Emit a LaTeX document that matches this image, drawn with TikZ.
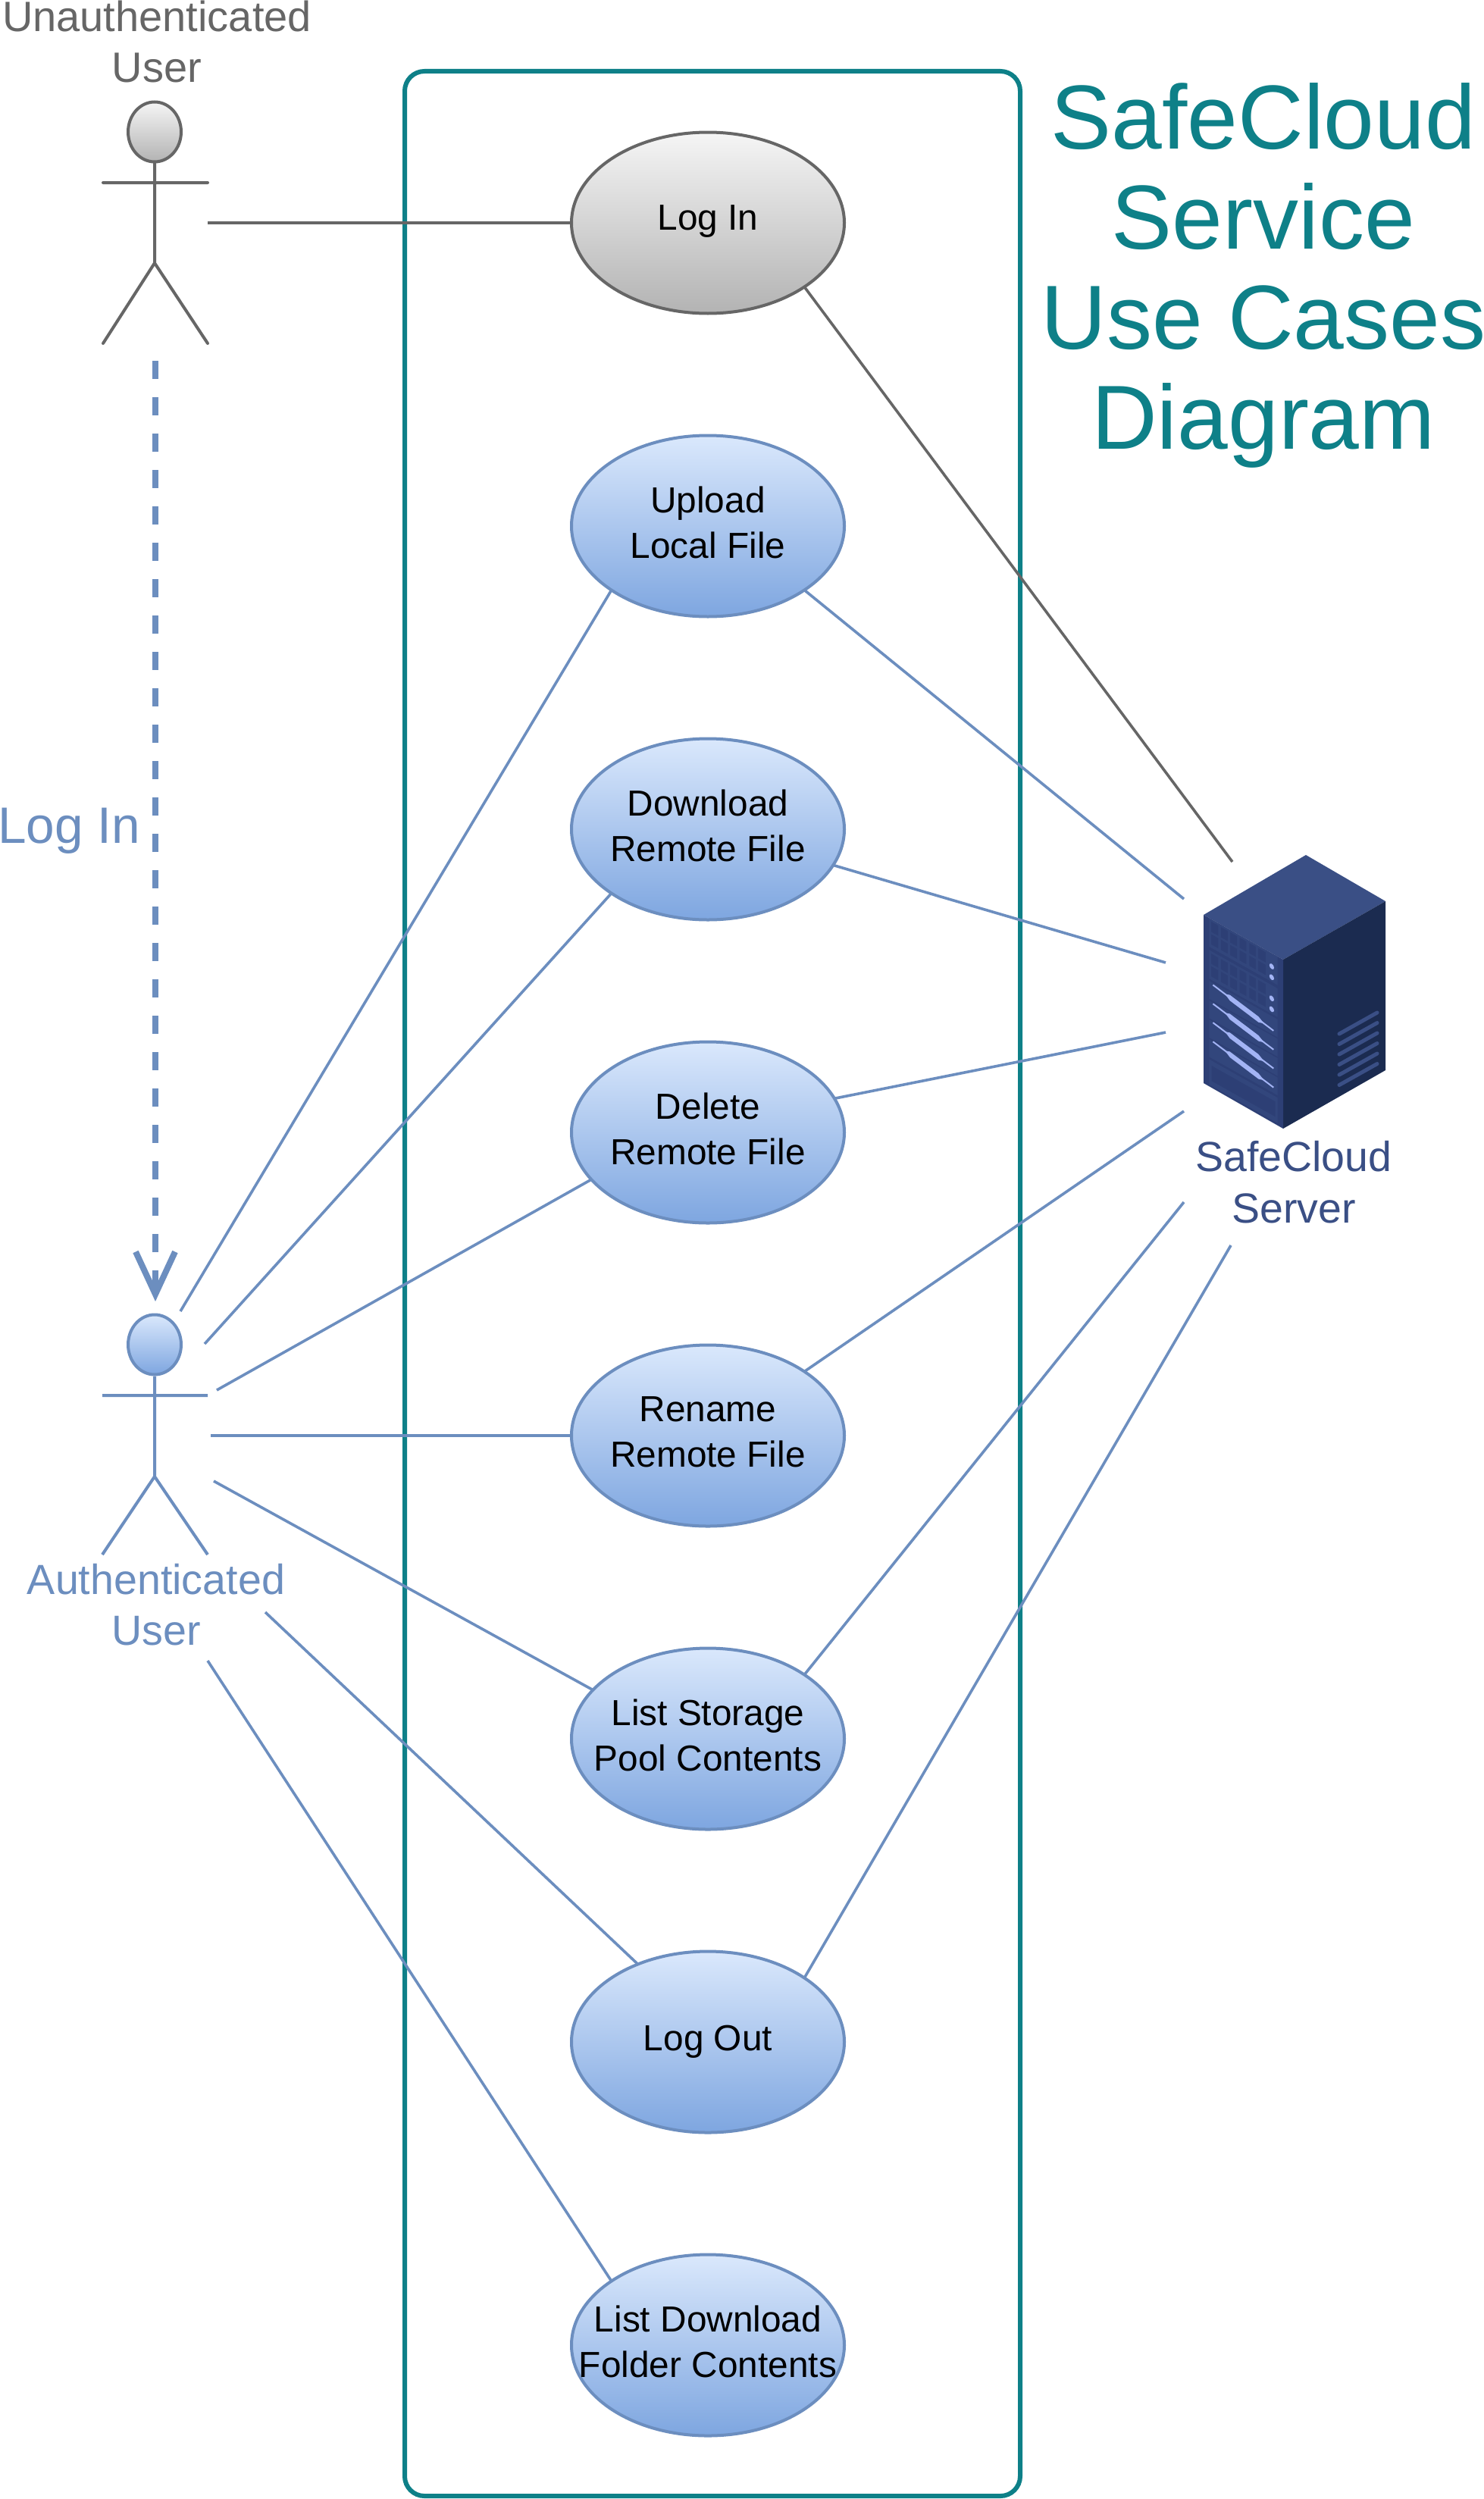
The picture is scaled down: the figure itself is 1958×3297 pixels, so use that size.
\documentclass[tikz,border=0pt]{standalone}
\usepackage{fontspec}
\setmainfont{Liberation Sans}
\usetikzlibrary{arrows.meta,calc,shapes.geometric}
\definecolor{teal1}{HTML}{0E8088}
\definecolor{grayl}{HTML}{666666}
\definecolor{bluel}{HTML}{6C8EBF}
\definecolor{srvtop}{HTML}{3A4F85}
\definecolor{srvfront}{HTML}{2D3F75}
\definecolor{srvright}{HTML}{1B2B50}
\definecolor{srvhi}{HTML}{A3B4F5}
\definecolor{blueTop}{HTML}{DAE8FC}
\definecolor{blueBot}{HTML}{7EA6E0}
\definecolor{grayTop}{HTML}{F5F5F5}
\definecolor{grayBot}{HTML}{B3B3B3}
\newcommand{\dn}[1]{\rule[-#1pt]{0pt}{1pt}}
\tikzset{
  x=1pt,y=-1pt,
  usecase/.style={ellipse,minimum width=360pt,minimum height=239pt,inner sep=-50pt,outer sep=0pt,line width=4pt,align=center,text=black,font=\fontsize{47.8}{60}\selectfont},
  bluecase/.style={usecase,draw=bluel,top color=blueTop,bottom color=blueBot},
  graycase/.style={usecase,draw=grayl,top color=grayTop,bottom color=grayBot},
  bluelink/.style={draw=bluel,line width=3.6pt},
  graylink/.style={draw=grayl,line width=3.6pt},
  bluehead/.style={ellipse,minimum width=70pt,minimum height=79pt,inner sep=0pt,line width=4pt,draw=bluel,top color=blueTop,bottom color=blueBot},
  grayhead/.style={ellipse,minimum width=70pt,minimum height=79pt,inner sep=0pt,line width=4pt,draw=grayl,top color=grayTop,bottom color=grayBot},
  lab/.style={inner sep=0pt,outer sep=0pt,align=center},
}
\begin{document}
\begin{tikzpicture}
\useasboundingbox (0,0) rectangle (1958,3297);
\fill[white] (0,0) rectangle (1958,3297);
% system boundary
\draw[teal1,line width=6pt,rounded corners=26pt] (534,94) rectangle (1346,3293);
% title
\node[lab,text=teal1,font=\fontsize{120}{132}\selectfont] (title) at (1667,363) {SafeCloud\\Service\\Use Cases\\Diagram};
% use cases
\node[graycase] (login) at (934,294) {Log In\dn{14}};
\node[bluecase] (upload) at (934,694) {Upload\\Local File\dn{10}};
\node[bluecase] (download) at (934,1094) {Download\\Remote File\dn{10}};
\node[bluecase] (delete) at (934,1494) {Delete\\Remote File\dn{10}};
\node[bluecase] (rename) at (934,1894) {Rename\\Remote File\dn{10}};
\node[bluecase] (liststore) at (934,2294) {List Storage\\Pool Contents\dn{10}};
\node[bluecase] (logout) at (934,2694) {Log Out\dn{10}};
\node[bluecase] (listdl) at (934,3094) {List Download\\Folder Contents\dn{10}};
% unauthenticated actor
\node[grayhead] (uhead) at (204,174) {};
\coordinate (uarml) at (136,241);
\coordinate (uarmr) at (274,241);
\coordinate (ucrotch) at (204,347);
\coordinate (ulegl) at (136,453);
\coordinate (ulegr) at (274,453);
\draw[graylink,line width=4pt,line cap=round] (uhead.south) -- (ucrotch) (uarml) -- (uarmr) (ulegl) -- (ucrotch) -- (ulegr);
\node[lab,text=grayl,font=\fontsize{56}{67}\selectfont] (ulabel) at (207,55) {Unauthenticated\\User};
% authenticated actor
\node[bluehead] (ahead) at (204,1774) {};
\coordinate (aarml) at (135,1841);
\coordinate (aarmr) at (274,1841);
\coordinate (acrotch) at (204,1948);
\coordinate (alegl) at (135,2051);
\coordinate (alegr) at (274,2051);
\draw[bluelink,line width=4pt] (ahead.south) -- (acrotch) (aarml) -- (aarmr) (alegl) -- (acrotch) -- (alegr);
\node[lab,text=bluel,font=\fontsize{55.6}{67}\selectfont] (alabel) at (206,2117) {Authenticated\\User};
% log in transition
\coordinate (dashstart) at (205,476);
\coordinate (dashend) at (205,1717);
\draw[bluel,line width=8pt,dash pattern=on 24pt off 24pt,-{Straight Barb[length=56pt,width=52pt]}] (dashstart) -- (dashend);
\node[lab,text=bluel,font=\fontsize{67.5}{79}\selectfont] (loginlab) at (91,1096) {Log In};
% server icon
\coordinate (sT) at (1723,1128);
\coordinate (sR) at (1828,1189);
\coordinate (sC) at (1693,1266);
\coordinate (sL) at (1588,1207);
\coordinate (sBL) at (1588,1429);
\coordinate (sB) at (1693,1489);
\coordinate (sBR) at (1828,1412);
\fill[srvtop] (sT) -- (sR) -- (sC) -- (sL) -- cycle;
\fill[srvright] (sC) -- (sR) -- (sBR) -- (sB) -- cycle;
\fill[srvfront] (sL) -- (sC) -- (sB) -- (sBL) -- cycle;
\begin{scope}[x=1pt,y=1pt,cm={105,-59,0,-222,(1588pt,-1207pt)}]
  \fill[srvtop,opacity=.45] (.07,0) rectangle (.93,.17);
  \fill[srvtop,opacity=.45] (.07,.19) rectangle (.93,.36);
  \fill[srvtop,opacity=.45] (.07,.374) rectangle (.93,.48);
  \fill[srvtop,opacity=.45] (.07,.49) rectangle (.93,.595);
  \fill[srvtop,opacity=.45] (.07,.605) rectangle (.93,.71);
  \fill[srvtop,opacity=.45] (.07,.72) rectangle (.93,.825);
  \fill[srvtop,opacity=.45] (.07,.84) rectangle (.93,.99);
  \fill[srvfront] (.10,.87) rectangle (.90,.96);
  \foreach \r in {0,.19}{
    \foreach \a/\b in {.096/.185,.217/.304,.335/.42,.454/.537,.575/.655,.687/.783}{
      \fill[srvfront] (\a,\r+.015) rectangle (\b,\r+.075);
      \fill[srvfront] (\a,\r+.09) rectangle (\b,\r+.15);
    }
    \fill[srvhi] (.856,\r+.079) ellipse[x radius=.03,y radius=.016];
    \fill[srvhi] (.856,\r+.143) ellipse[x radius=.03,y radius=.016];
  }
  \foreach \d in {0,.112,.224,.337}{
    \draw[srvhi,line width=2pt] (.118,.385+\d) -- (.879,.455+\d);
    \fill[srvhi] (.27,.399+\d) -- (.33,.388+\d) -- (.69,.421+\d) -- (.76,.444+\d) -- (.69,.455+\d) -- (.33,.422+\d) -- cycle;
  }
\end{scope}
\foreach \i in {0,...,5}{
  \draw[srvtop,line width=5pt,line cap=round] (1767,1364+13.5*\i) -- (1817,1336+13.5*\i);
}
\node[lab,text=srvtop,font=\fontsize{55.5}{68}\selectfont] (srvlabel) at (1707,1560) {SafeCloud\\Server};
% connector free ends
\coordinate (srvA) at (1626,1137);
\coordinate (srvB) at (1562,1186);
\coordinate (srvC) at (1538,1270);
\coordinate (srvD) at (1538,1362);
\coordinate (srvE) at (1562,1466);
\coordinate (srvF) at (1562,1586);
\coordinate (srvG) at (1624,1643);
\coordinate (actA) at (238,1730);
\coordinate (actB) at (270,1773);
\coordinate (actC) at (286,1834);
\coordinate (actD) at (278,1894);
\coordinate (actE) at (282,1954);
\coordinate (actF) at (350,2127);
\coordinate (actG) at (274,2191);
\coordinate (actU) at (274,294);
\draw[graylink] (actU) -- (login.west);
\draw[graylink] (login.south east) -- (srvA);
\draw[bluelink] (actA) -- (upload.south west);
\draw[bluelink] (upload.south east) -- (srvB);
\draw[bluelink] (actB) -- (download.south west);
\draw[bluelink] (download.-16) -- (srvC);
\draw[bluelink] (actC) -- (delete.202.4);
\draw[bluelink] (delete.15.5) -- (srvD);
\draw[bluelink] (actD) -- (rename.west);
\draw[bluelink] (rename.north east) -- (srvE);
\draw[bluelink] (actE) -- (liststore.157.6);
\draw[bluelink] (liststore.north east) -- (srvF);
\draw[bluelink] (actF) -- (logout.132.4);
\draw[bluelink] (logout.north east) -- (srvG);
\draw[bluelink] (actG) -- (listdl.north west);
\end{tikzpicture}
\end{document}
